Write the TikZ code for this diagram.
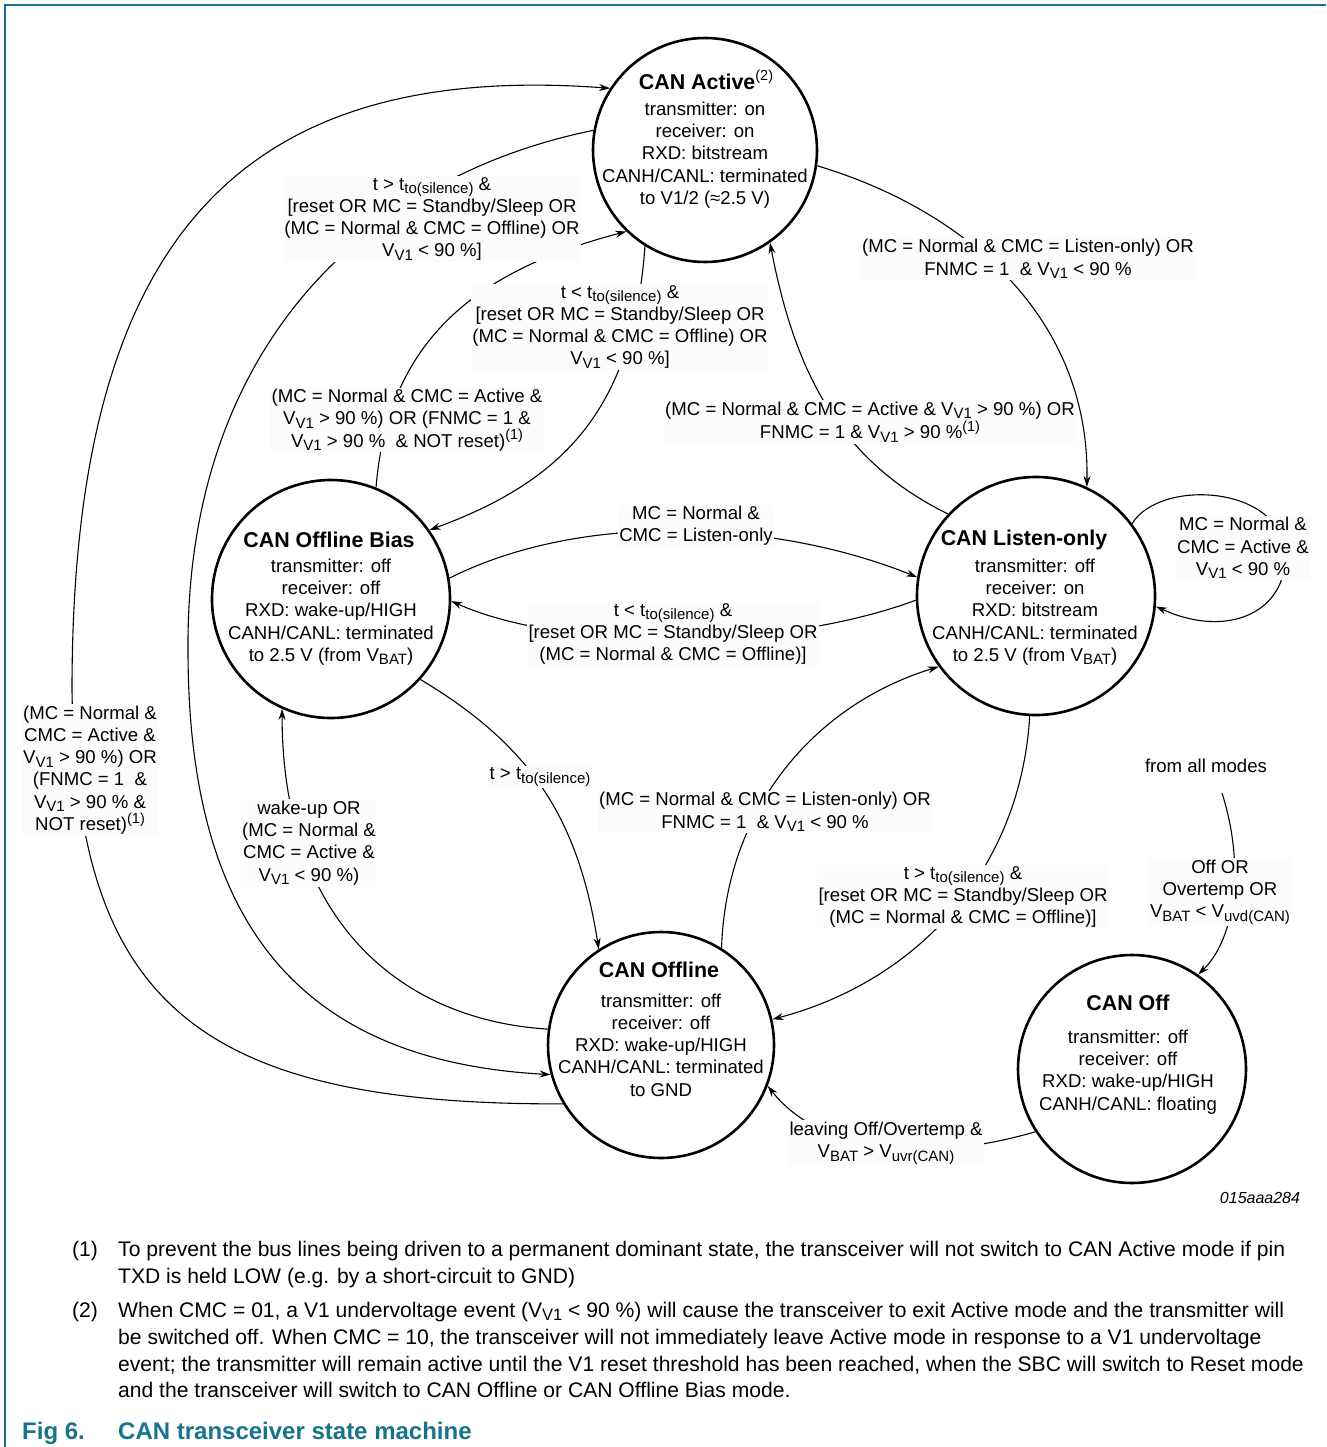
\documentclass[tikz,border=0pt]{standalone}
\usepackage{fontspec}
\setmainfont{Liberation Sans}
\usetikzlibrary{arrows.meta}
\definecolor{nxp}{RGB}{22,116,140}
\newcommand{\sbs}[1]{\raisebox{-0.35ex}{\fontsize{15}{15}\selectfont #1}}
\newcommand{\sps}[1]{\raisebox{0.75ex}{\fontsize{14.5}{14.5}\selectfont\mdseries #1}}
\newcommand{\fsb}[1]{\raisebox{-0.35ex}{\fontsize{16.5}{16.5}\selectfont #1}}
\begin{document}
\begin{tikzpicture}[x=1pt,y=-1pt,
  st/.style={circle,draw,line width=2.6pt,minimum size=#1,inner sep=0pt},
  ttl/.style={font=\fontsize{21.4}{24}\selectfont\bfseries,inner sep=0pt},
  body/.style={font=\fontsize{18.6}{22.3}\selectfont,align=center,inner sep=0pt},
  lbl/.style={font=\fontsize{18.6}{22.3}\selectfont,align=center,fill=black!1,inner sep=1.5pt},
  arr/.style={line width=1.1pt,-{Stealth[length=11pt,width=7pt]}},
  fn/.style={font=\fontsize{21.1}{26}\selectfont,inner sep=0pt,anchor=base west},
  capt/.style={font=\fontsize{24}{28}\selectfont\bfseries,text=nxp,inner sep=0pt,anchor=base west},
]
\useasboundingbox (0,0) rectangle (1326,1447);
\fill[white] (0,0) rectangle (1326,1447);
\draw[nxp,line width=1.5pt] (5,1447) -- (5,5) -- (1326,5);

% states
\node[st=224pt] (act) at (705,150) {};
\node[st=238pt] (bias) at (331,599) {};
\node[st=238pt] (lis) at (1036,596) {};
\node[st=226pt] (off) at (661,1045) {};
\node[st=228pt] (cof) at (1132,1069) {};

\node[ttl] (actT) at (706,80) {CAN Active\sps{(2)}};
\node[body] (actB) at (705,155) {transmitter: on\\receiver: on\\RXD: bitstream\\CANH/CANL: terminated\\to V1/2 (≈2.5 V)};
\node[ttl] (biasT) at (329,540) {CAN Offline Bias};
\node[body] (biasB) at (331,612) {transmitter: off\\receiver: off\\RXD: wake-up/HIGH\\CANH/CANL: terminated\\to 2.5 V (from V\sbs{BAT})};
\node[ttl] (lisT) at (1024,540) {CAN Listen-only};
\node[body] (lisB) at (1035,612) {transmitter: off\\receiver: on\\RXD: bitstream\\CANH/CANL: terminated\\to 2.5 V (from V\sbs{BAT})};
\node[ttl] (offT) at (659,970) {CAN Offline};
\node[body] (offB) at (661,1045) {transmitter: off\\receiver: off\\RXD: wake-up/HIGH\\CANH/CANL: terminated\\to GND};
\node[ttl] (cofT) at (1128,1003) {CAN Off};
\node[body] (cofB) at (1128,1072) {transmitter: off\\receiver: off\\RXD: wake-up/HIGH\\CANH/CANL: floating};

% connectors
\draw[arr] (off.211) .. controls (200,1105) and (76,1005) .. (72,690) .. controls (72,250) and (230,60) .. (act.147);
\draw[arr] (act.170) .. controls (369,176) and (186,345) .. (188,650) .. controls (188,900) and (280,1060) .. (off.195);
\draw[arr] (bias.68) .. controls (388,338) and (479,270) .. (act.226);
\draw[arr] (act.238) .. controls (633,413) and (560,482) .. (bias.35);
\draw[arr] (act.352) .. controls (965,210) and (1090,317) .. (lis.65);
\draw[arr] (lis.137) .. controls (840,461) and (795,373) .. (act.305);
\draw[arr] (lis.37) .. controls (1160,478) and (1283,485) .. (1285,555) .. controls (1287,610) and (1230,640) .. (lis.-5);
\draw[arr] (bias.10) .. controls (585,510) and (778,521) .. (lis.171);
\draw[arr] (lis.182) .. controls (776,652) and (560,650) .. (bias.-1);
\draw[arr] (bias.-42) .. controls (530,745) and (578,817) .. (off.123);
\draw[arr] (off.172) .. controls (400,1020) and (282,920) .. (bias.246);
\draw[arr] (off.58) .. controls (726,807) and (816,704) .. (lis.216);
\draw[arr] (lis.267) .. controls (1020,876) and (911,983) .. (off.13);
\coordinate (famout) at (1222,793);
\draw[arr] (famout) .. controls (1246,869) and (1234,940) .. (cof.55);
\draw[arr] (cof.213) .. controls (921,1165) and (819,1151) .. (off.-21);

% labels
\node[lbl] (lAO) at (432,219) {t > t\sbs{to(silence)} \&\\{}[reset OR MC = Standby/Sleep OR\\(MC = Normal \& CMC = Offline) OR\\V\sbs{V1} < 90 \%]};
\node[lbl] (lAB) at (620,327) {t < t\sbs{to(silence)} \&\\{}[reset OR MC = Standby/Sleep OR\\(MC = Normal \& CMC = Offline) OR\\V\sbs{V1} < 90 \%]};
\node[lbl] (lBA) at (407,420) {(MC = Normal \& CMC = Active \&\\V\sbs{V1} > 90 \%) OR (FNMC = 1 \&\\V\sbs{V1} > 90 \%\ \ \& NOT reset)\sps{(1)}};
\node[lbl] (lAL) at (1028,259) {(MC = Normal \& CMC = Listen-only) OR\\FNMC = 1\ \ \& V\sbs{V1} < 90 \%};
\node[lbl] (lLA) at (870,422) {(MC = Normal \& CMC = Active \& V\sbs{V1} > 90 \%) OR\\[1pt]FNMC = 1 \& V\sbs{V1} > 90 \%\sps{(1)}};
\node[lbl] (lLL) at (1243,548) {MC = Normal \&\\CMC = Active \&\\V\sbs{V1} < 90 \%};
\node[lbl] (lBL) at (696,526) {MC = Normal \&\\CMC = Listen-only};
\node[lbl] (lLB) at (673,634) {t < t\sbs{to(silence)} \&\\{}[reset OR MC = Standby/Sleep OR\\(MC = Normal \& CMC = Offline)]};
\node[lbl] (lOA) at (90,770) {(MC = Normal \&\\CMC = Active \&\\V\sbs{V1} > 90 \%) OR\\(FNMC = 1\ \ \&\\V\sbs{V1} > 90 \% \&\\NOT reset)\sps{(1)}};
\node[lbl] (lBO) at (540,777) {t > t\sbs{to(silence)}};
\node[lbl] (lOB) at (309,843) {wake-up OR\\(MC = Normal \&\\CMC = Active \&\\V\sbs{V1} < 90 \%)};
\node[lbl] (lOL) at (765,812) {(MC = Normal \& CMC = Listen-only) OR\\FNMC = 1\ \ \& V\sbs{V1} < 90 \%};
\node[lbl] (lLO) at (963,897) {t > t\sbs{to(silence)} \&\\{}[reset OR MC = Standby/Sleep OR\\(MC = Normal \& CMC = Offline)]};
\node[lbl,fill=none] (fam) at (1206,766) {from all modes};
\node[lbl] (lFO) at (1220,892) {Off OR\\Overtemp OR\\V\sbs{BAT} < V\sbs{uvd(CAN)}};
\node[lbl] (lLv) at (886,1143) {leaving Off/Overtemp \&\\V\sbs{BAT} > V\sbs{uvr(CAN)}};
\node[font=\fontsize{16}{18}\selectfont\itshape,inner sep=0pt] (code) at (1260,1198) {015aaa284};

% footnotes
\node[fn] (f1n) at (72,1256) {(1)};
\node[fn] (f1a) at (118,1256) {To prevent the bus lines being driven to a permanent dominant state, the transceiver will not switch to CAN Active mode if pin};
\node[fn] (f1b) at (118,1283) {TXD is held LOW (e.g. by a short-circuit to GND)};
\node[fn] (f2n) at (72,1317) {(2)};
\node[fn] (f2a) at (118,1317) {When CMC = 01, a V1 undervoltage event (V\fsb{V1} < 90 \%) will cause the transceiver to exit Active mode and the transmitter will};
\node[fn] (f2b) at (118,1344) {be switched off. When CMC = 10, the transceiver will not immediately leave Active mode in response to a V1 undervoltage};
\node[fn] (f2c) at (118,1371) {event; the transmitter will remain active until the V1 reset threshold has been reached, when the SBC will switch to Reset mode};
\node[fn] (f2d) at (118,1397) {and the transceiver will switch to CAN Offline or CAN Offline Bias mode.};
\node[capt] (figno) at (22,1439) {Fig 6.};
\node[capt] (figt) at (118,1439) {CAN transceiver state machine};
\end{tikzpicture}
\end{document}
